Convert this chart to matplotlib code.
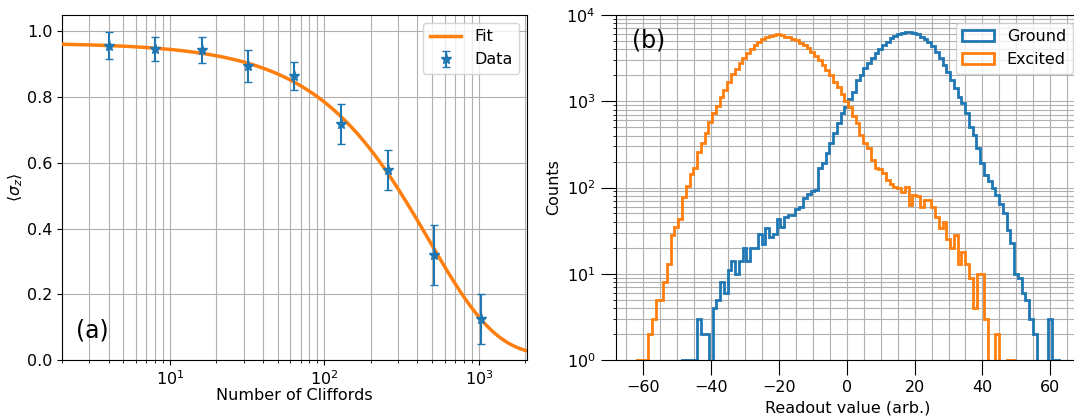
import numpy as np
import matplotlib
matplotlib.use('Agg')
import matplotlib.pyplot as plt
from matplotlib.ticker import MultipleLocator

# ---------------- Panel (a): randomized benchmarking ----------------
cliffords = [4, 8, 16, 32, 64, 128, 256, 512, 1024]
sigma_z = [0.957, 0.947, 0.944, 0.894, 0.864, 0.719, 0.578, 0.319, 0.125]
sigma_err = [0.040, 0.036, 0.040, 0.049, 0.042, 0.061, 0.062, 0.091, 0.075]
# fit model  A * p**m + B
fit_A = 0.95
fit_p = 0.9979
fit_B = 0.015
fit_range = (2, 2048)

# ---------------- Panel (b): readout histograms ----------------
ground_range = (-48.5, 62.7)
ground_counts = [1, 1, 1, 1,
                 3, 2, 2, 0, 4, 5, 8, 6, 11, 14, 10, 14,
                 20, 14, 20, 20, 29, 22, 34, 27, 29, 43, 35, 46, 48, 48, 57, 60, 75, 84, 90, 94,
                 167, 190, 249, 325, 425, 555, 725, 865, 1050, 1290, 1763, 2015, 2410, 2755,
                 3150, 3655, 4000, 4490, 4910, 5370, 5710, 6030, 6240,
                 6350, 6350,
                 6240, 6030, 5610, 5220, 4910, 4370, 3760, 3150, 2630, 2200,
                 1763, 1413, 1130, 946, 725, 507, 407, 285, 190, 140,
                 120, 100, 82, 65, 50, 32, 23, 10, 9, 6,
                 5, 3, 2, 0, 0, 0, 3, 1, 1]
excited_range = (-62.0, 49.4)
excited_counts = [1, 1, 1, 2, 3, 5, 5, 8, 13, 28, 35, 43, 77, 104,
                  143, 167, 260, 325, 425, 580, 725, 880, 1110, 1350,
                  1690, 2070, 2370, 2750, 3150, 3600, 4040, 4490, 4910, 5280,
                  5520, 5710, 5860, 5970, 5860, 5620, 5520, 5280, 5090, 4790,
                  4490, 4110, 3760, 3350, 3010, 2630, 2300, 2010, 1690, 1445,
                  1213, 1000, 850, 680, 555, 407,
                  325, 285, 210, 170, 165, 146, 122, 110, 102, 100, 89, 102, 63, 82, 80, 60, 72, 72,
                  60, 46, 34, 40, 25, 20, 28, 13, 18, 13, 9, 4, 10, 10, 3, 0, 0, 2, 0, 0, 1, 1]

plt.rcParams['font.family'] = ['DejaVu Sans']
plt.rcParams['font.size'] = 11.5

W, H = 1074, 417
fig = plt.figure(figsize=(W / 100, H / 100), dpi=100)
ax1 = fig.add_axes([62 / W, 57 / H, 465 / W, 345 / H])
ax2 = fig.add_axes([615.5 / W, 57 / H, 465 / W, 345 / H])

# ---- (a)
m = np.geomspace(fit_range[0], fit_range[1], 500)
ax1.plot(m, fit_A * fit_p ** m + fit_B, color='C1', lw=2.5, label='Fit', zorder=3)
ax1.errorbar(cliffords, sigma_z, yerr=sigma_err, fmt='*', color='C0', ms=8,
             capsize=3, elinewidth=1.5, label='Data', zorder=4)
ax1.set_xscale('log')
ax1.set_xlim(*fit_range)
ax1.set_ylim(0, 1.05)
ax1.grid(True, which='both', color='#b0b0b0', lw=0.8)
ax1.set_xlabel('Number of Cliffords', labelpad=0)
ax1.set_ylabel(r'$\langle\sigma_z\rangle$', labelpad=1)
ax1.legend(loc='upper right')
ax1.text(0.03, 0.05, '(a)', transform=ax1.transAxes, fontsize=17, va='bottom', ha='left')

# ---- (b)
g_edges = np.linspace(ground_range[0], ground_range[1], len(ground_counts) + 1)
e_edges = np.linspace(excited_range[0], excited_range[1], len(excited_counts) + 1)
g_centers = 0.5 * (g_edges[:-1] + g_edges[1:])
e_centers = 0.5 * (e_edges[:-1] + e_edges[1:])
ax2.hist(g_centers, bins=g_edges, weights=ground_counts, histtype='step', lw=2,
         color='C0', label='Ground', log=True)
ax2.hist(e_centers, bins=e_edges, weights=excited_counts, histtype='step', lw=2,
         color='C1', label='Excited', log=True)
ax2.set_ylim(1, 1e4)
ax2.xaxis.set_major_locator(MultipleLocator(20))
ax2.xaxis.set_minor_locator(MultipleLocator(5))
ax2.grid(True, which='both', color='#b0b0b0', lw=0.8)
ax2.tick_params(which='major', length=11)
ax2.tick_params(axis='x', which='minor', length=0)
ax2.set_xlabel('Readout value (arb.)')
ax2.set_ylabel('Counts')
ax2.legend(loc='upper right')
ax2.text(0.035, 0.96, '(b)', transform=ax2.transAxes, fontsize=17, va='top', ha='left')

fig.savefig('out.png', dpi=100)
